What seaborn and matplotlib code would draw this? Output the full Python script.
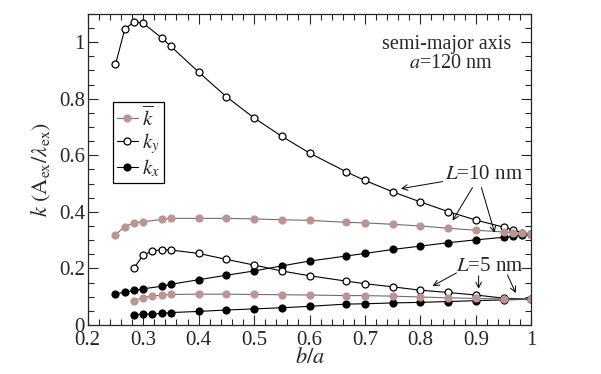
import numpy as np
import pandas as pd
import seaborn as sns
import matplotlib.pyplot as plt
from matplotlib.ticker import MultipleLocator

# b values (nm) for a = 120 nm
b_L10 = [30, 32, 34, 36, 40, 42, 48, 54, 60, 66, 72, 80, 84, 90, 96, 102, 108, 114, 116, 118, 120]
b_L5 = [34, 36, 38, 40, 42, 48, 54, 60, 66, 72, 80, 84, 90, 96, 102, 108, 114, 120]

# L = 10 nm
ky_L10 = [0.921, 1.045, 1.072, 1.067, 1.015, 0.985, 0.894, 0.807, 0.732, 0.667, 0.608,
          0.541, 0.511, 0.471, 0.435, 0.401, 0.371, 0.346, 0.336, 0.327, 0.321]
kbar_L10 = [0.319, 0.348, 0.361, 0.365, 0.373, 0.377, 0.377, 0.377, 0.375, 0.372, 0.370,
            0.363, 0.361, 0.356, 0.350, 0.342, 0.335, 0.329, 0.326, 0.324, 0.321]
kx_L10 = [0.110, 0.116, 0.122, 0.128, 0.137, 0.144, 0.160, 0.176, 0.191, 0.209, 0.226,
          0.244, 0.253, 0.267, 0.279, 0.291, 0.301, 0.310, 0.313, 0.317, 0.321]

# L = 5 nm
ky_L5 = [0.201, 0.247, 0.262, 0.266, 0.265, 0.253, 0.232, 0.212, 0.191, 0.174,
         0.155, 0.146, 0.135, 0.123, 0.115, 0.106, 0.095, 0.091]
kbar_L5 = [0.086, 0.097, 0.103, 0.105, 0.108, 0.109, 0.109, 0.108, 0.107, 0.106,
           0.104, 0.104, 0.102, 0.099, 0.096, 0.094, 0.092, 0.091]
kx_L5 = [0.037, 0.038, 0.039, 0.041, 0.044, 0.048, 0.053, 0.057, 0.061, 0.066,
         0.074, 0.075, 0.078, 0.080, 0.083, 0.086, 0.089, 0.091]

a = 120.0
x10 = np.array(b_L10) / a
x5 = np.array(b_L5) / a

sns.set_style("ticks")
plt.rcParams['font.family'] = ['Liberation Serif', 'DejaVu Serif']
plt.rcParams['mathtext.fontset'] = 'stix'

fig = plt.figure(figsize=(6.01, 3.74), dpi=100)
ax = fig.add_axes([0.146, 0.131, 0.738, 0.832])

pink = '#bc9494'
estilos = {
    'kbar': dict(color='#6e6e6e', marker='o', markerfacecolor=pink, markeredgecolor=pink),
    'ky': dict(color='black', marker='o', markerfacecolor='white', markeredgecolor='black'),
    'kx': dict(color='black', marker='o', markerfacecolor='black', markeredgecolor='black'),
}

series = [
    (x10, ky_L10, 'ky'), (x10, kx_L10, 'kx'), (x10, kbar_L10, 'kbar'),
    (x5, ky_L5, 'ky'), (x5, kx_L5, 'kx'), (x5, kbar_L5, 'kbar'),
]
for xs, ys, nome in series:
    sns.lineplot(x=xs, y=ys, ax=ax, sort=False, estimator=None, linewidth=0.8,
                 markersize=5, markeredgewidth=0.9, **estilos[nome])

ax.set_xlim(0.2, 1.0)
ax.set_ylim(0, 1.1)
ax.xaxis.set_minor_locator(MultipleLocator(0.02))
ax.yaxis.set_minor_locator(MultipleLocator(0.05))
ax.set_xticks(np.arange(0.2, 1.01, 0.1))
ax.set_xticklabels(['0.2', '0.3', '0.4', '0.5', '0.6', '0.7', '0.8', '0.9', '1'])
ax.set_yticks(np.arange(0, 1.01, 0.2))
ax.set_yticklabels(['0', '0.2', '0.4', '0.6', '0.8', '1'])
ax.tick_params(which='both', direction='in', top=True, right=True, labelsize=15)
ax.tick_params(axis='x', pad=4)
ax.tick_params(axis='y', pad=2)
ax.tick_params(which='major', length=7, width=0.8)
ax.tick_params(which='minor', length=4, width=0.8)
for s in ax.spines.values():
    s.set_linewidth(0.9)

ax.set_xlabel(r'$b/a$', fontsize=16, labelpad=-1)
ax.set_ylabel(r'$k\ (\mathrm{A_{ex}}/\lambda_{\mathrm{ex}})$', fontsize=16, labelpad=4)

# legenda
handles = [plt.Line2D([], [], linewidth=0.8, markersize=5, markeredgewidth=0.9, **estilos[n])
           for n in ['kbar', 'ky', 'kx']]
leg = ax.legend(handles, [r'$\overline{k}$', r'$k_y$', r'$k_x$'], loc='upper left',
                bbox_to_anchor=(0.056, 0.717), borderaxespad=0, fontsize=15,
                handlelength=1.0, handletextpad=0.2, labelspacing=0.05,
                borderpad=0.2, fancybox=False, framealpha=1, edgecolor='black')
leg.get_frame().set_linewidth(0.9)

ax.text(0.81, 0.90, 'semi-major axis', transform=ax.transAxes, ha='center', va='center', fontsize=14.5)
ax.text(0.82, 0.842, r'$a$=120 nm', transform=ax.transAxes, ha='center', va='center', fontsize=14.5)

seta = dict(arrowstyle='->', color='black', linewidth=0.7, shrinkA=0, shrinkB=0)
ax.text(0.914, 0.532, r'$L$=10 nm', ha='center', va='center', fontsize=15)
ax.annotate('', xy=(0.765, 0.482), xytext=(0.840, 0.507), arrowprops=seta)
ax.annotate('', xy=(0.858, 0.369), xytext=(0.894, 0.486), arrowprops=seta)
ax.annotate('', xy=(0.934, 0.326), xytext=(0.910, 0.486), arrowprops=seta)

ax.text(0.925, 0.206, r'$L$=5 nm', ha='center', va='center', fontsize=15)
ax.annotate('', xy=(0.822, 0.138), xytext=(0.865, 0.184), arrowprops=seta)
ax.annotate('', xy=(0.905, 0.128), xytext=(0.905, 0.174), arrowprops=seta)
ax.annotate('', xy=(0.972, 0.113), xytext=(0.957, 0.177), arrowprops=seta)

plt.savefig('out.png', dpi=100)
